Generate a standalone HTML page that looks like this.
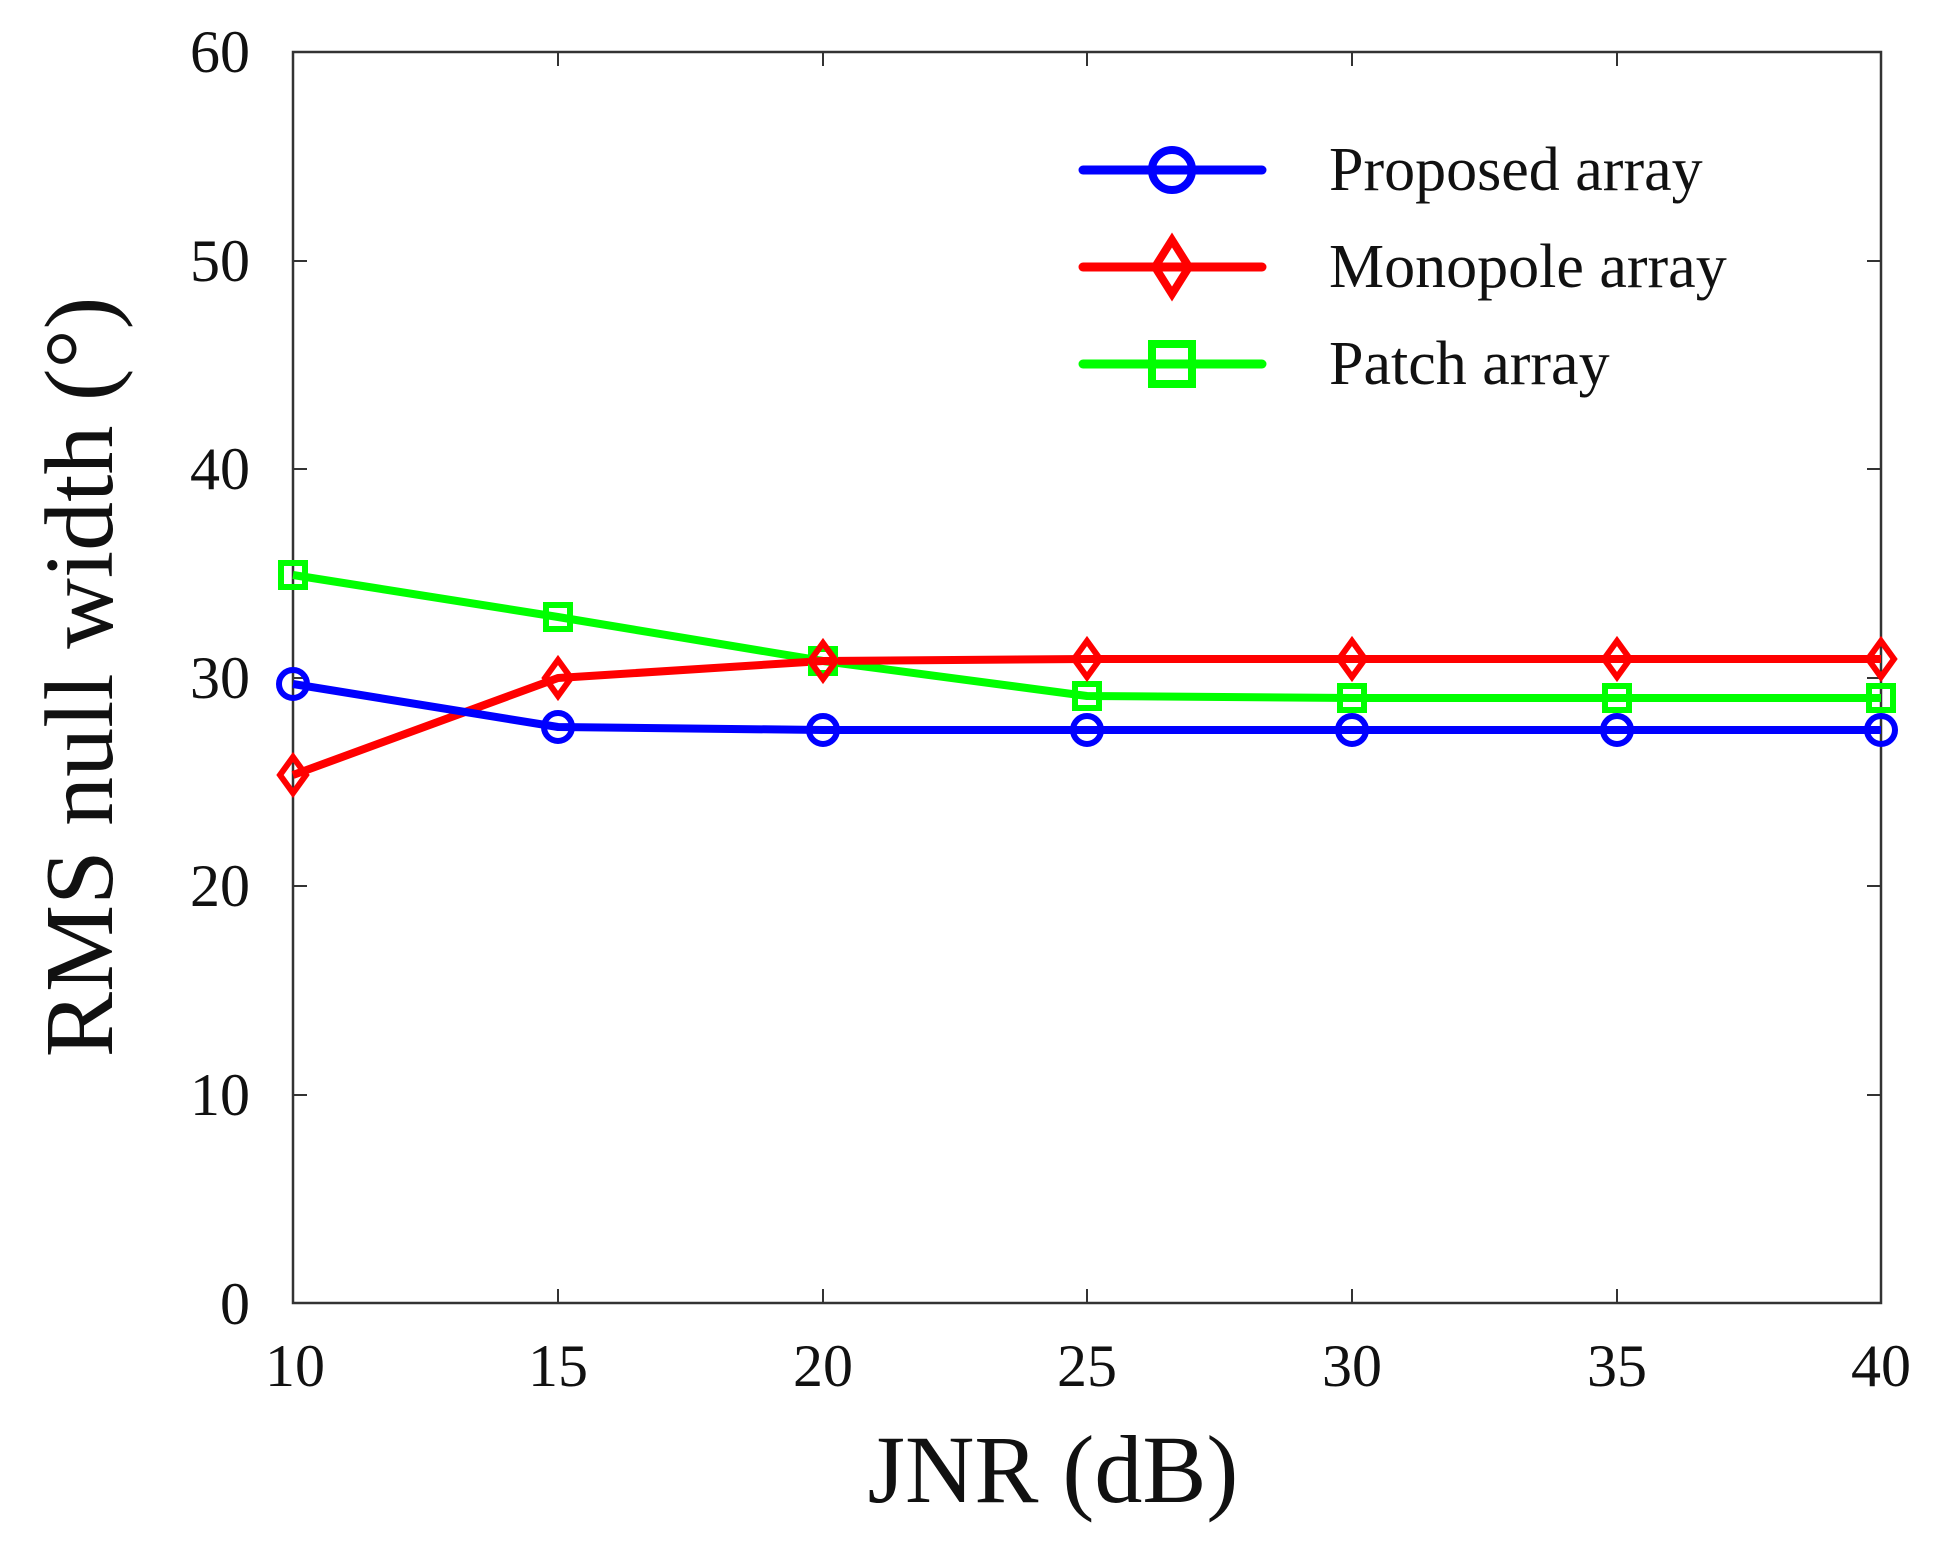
<!DOCTYPE html>
<html><head><meta charset="utf-8"><style>
html,body{margin:0;padding:0;background:#fff;}
svg{display:block;}
text{font-family:"Liberation Serif",serif;fill:#111;}
</style></head><body>
<svg width="1948" height="1556" viewBox="0 0 1948 1556" xmlns="http://www.w3.org/2000/svg">
<rect width="1948" height="1556" fill="#fff"/>
<rect x="293" y="52" width="1588" height="1251" fill="none" stroke="#333" stroke-width="2.5"/>
<g stroke="#333" stroke-width="2">
<path d="M558 1303v-14M823 1303v-14M1087 1303v-14M1352 1303v-14M1617 1303v-14"/>
<path d="M558 52v14M823 52v14M1087 52v14M1352 52v14M1617 52v14"/>
<path d="M293 1095h14M293 886h14M293 678h14M293 469h14M293 261h14"/>
<path d="M1881 1095h-14M1881 886h-14M1881 678h-14M1881 469h-14M1881 261h-14"/>
</g>
<g font-size="60" text-anchor="end">
<text x="250" y="1324">0</text>
<text x="250" y="1115">10</text>
<text x="250" y="906">20</text>
<text x="250" y="698">30</text>
<text x="250" y="489">40</text>
<text x="250" y="281">50</text>
<text x="250" y="72">60</text>
</g>
<g font-size="60" text-anchor="middle">
<text x="295" y="1386">10</text>
<text x="558" y="1386">15</text>
<text x="823" y="1386">20</text>
<text x="1087" y="1386">25</text>
<text x="1352" y="1386">30</text>
<text x="1617" y="1386">35</text>
<text x="1881" y="1386">40</text>
</g>
<text x="1053" y="1502" font-size="96" text-anchor="middle">JNR (dB)</text>
<text transform="translate(112,677) rotate(-90)" font-size="98" text-anchor="middle">RMS null width (°)</text>

<g fill="none" stroke-width="8" stroke-linejoin="round">
<polyline stroke="#00ff00" points="293,575 558,617 823,661 1087,696 1352,698 1617,698 1881,698"/>
<polyline stroke="#ff0000" points="293,775 558,678 823,661 1087,659 1352,659 1617,659 1881,659"/>
<polyline stroke="#0000ff" points="293,684 558,727 823,730 1087,730 1352,730 1617,730 1881,730"/>
</g>
<g fill="none" stroke="#00ff00" stroke-width="6">
<rect x="281" y="563" width="24" height="24"/><rect x="546" y="605" width="24" height="24"/>
<rect x="811" y="649" width="24" height="24"/><rect x="1075" y="684" width="24" height="24"/>
<rect x="1340" y="686" width="24" height="24"/><rect x="1605" y="686" width="24" height="24"/>
<rect x="1869" y="686" width="24" height="24"/>
</g>
<g fill="none" stroke="#ff0000" stroke-width="6">
<path d="M293 757l13 18l-13 18l-13-18z"/><path d="M558 660l13 18l-13 18l-13-18z"/>
<path d="M823 643l13 18l-13 18l-13-18z"/><path d="M1087 641l13 18l-13 18l-13-18z"/>
<path d="M1352 641l13 18l-13 18l-13-18z"/><path d="M1617 641l13 18l-13 18l-13-18z"/>
<path d="M1881 641l13 18l-13 18l-13-18z"/>
</g>
<g fill="none" stroke="#0000ff" stroke-width="6">
<circle cx="293" cy="684" r="14"/><circle cx="558" cy="727" r="14"/>
<circle cx="823" cy="730" r="14"/><circle cx="1087" cy="730" r="14"/>
<circle cx="1352" cy="730" r="14"/><circle cx="1617" cy="730" r="14"/>
<circle cx="1881" cy="730" r="14"/>
</g>

<g stroke-width="9" fill="none" stroke-linecap="round">
<line x1="1083" y1="170" x2="1262" y2="170" stroke="#0000ff"/>
<circle cx="1172" cy="170" r="20" stroke="#0000ff" stroke-width="8"/>
<line x1="1083" y1="267" x2="1262" y2="267" stroke="#ff0000"/>
<path d="M1172 240l17 27l-17 27l-17-27z" stroke="#ff0000" stroke-width="8"/>
<line x1="1083" y1="364" x2="1262" y2="364" stroke="#00ff00"/>
<rect x="1152" y="344" width="40" height="40" stroke="#00ff00" stroke-width="8"/>
</g>
<g font-size="62">
<text x="1329" y="190">Proposed array</text>
<text x="1329" y="287">Monopole array</text>
<text x="1329" y="384">Patch array</text>
</g>
</svg>
</body></html>
